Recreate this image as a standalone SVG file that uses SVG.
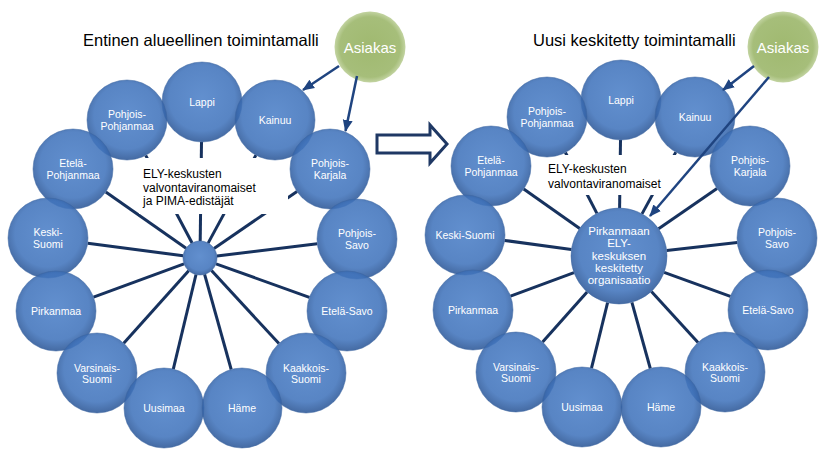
<svg xmlns="http://www.w3.org/2000/svg" width="825" height="461" viewBox="0 0 825 461">
<style>
.title{font-family:"Liberation Sans",Arial,sans-serif;font-size:16.5px;fill:#000}
.ely{font-family:"Liberation Sans",Arial,sans-serif;font-size:12px;fill:#000}
.lbl{font-family:"Liberation Sans",Arial,sans-serif;font-size:10.5px;fill:#fff;text-anchor:middle}
.hubt{font-family:"Liberation Sans",Arial,sans-serif;font-size:11.5px;fill:#fff;text-anchor:middle}
.ast{font-family:"Liberation Sans",Arial,sans-serif;font-size:15px;fill:#fff;text-anchor:middle}
.node{fill:url(#blue);fill-opacity:0.88;stroke:#3a64a0;stroke-opacity:0.5;stroke-width:1}
.asi{fill:url(#green)}
.spoke{stroke:#17325e;stroke-width:3;fill:none}
.arr{stroke:#1f4480;stroke-width:2.5;fill:none;marker-end:url(#ah)}
.wbox{fill:#fff}
</style>
<defs>
<radialGradient id="blue" cx="50%" cy="45%" r="55%">
<stop offset="0" stop-color="#4c80c8"/>
<stop offset="0.75" stop-color="#4174bc"/>
<stop offset="1" stop-color="#2b5696"/>
</radialGradient>
<radialGradient id="green" cx="50%" cy="50%" r="50%">
<stop offset="0" stop-color="#a0b970"/>
<stop offset="0.85" stop-color="#a6be7a"/>
<stop offset="1" stop-color="#c3d4a2"/>
</radialGradient>
<marker id="ah" markerUnits="userSpaceOnUse" markerWidth="12" markerHeight="12" viewBox="0 0 12 12" refX="11" refY="6" orient="auto">
<path d="M0,1 L12,6 L0,11 Z" fill="#1f4480"/>
</marker>
</defs>
<rect width="825" height="461" fill="#fff"/>

<g id="titles">
<text class="title" x="83" y="46">Entinen alueellinen toimintamalli</text>
<text class="title" x="533" y="46">Uusi keskitetty toimintamalli</text>
</g>

<g id="big-arrow">
<path d="M377,135 L430,135 L430,125 L447,144 L430,163 L430,153 L377,153 Z" fill="#fff" stroke="#1f3864" stroke-width="3" stroke-linejoin="miter"/>
</g>

<g id="connectors">
<line class="spoke" x1="200.2" y1="241" x2="201.5" y2="142"/>
<line class="spoke" x1="192.1" y1="243" x2="145.7" y2="155.4"/>
<line class="spoke" x1="208.1" y1="243.1" x2="255.9" y2="155.1"/>
<line class="spoke" x1="186.1" y1="248.2" x2="105.8" y2="192"/>
<line class="spoke" x1="214" y1="248.4" x2="297" y2="191.6"/>
<line class="spoke" x1="183.1" y1="255.8" x2="87.7" y2="243.2"/>
<line class="spoke" x1="216.9" y1="256" x2="317.3" y2="243.8"/>
<line class="spoke" x1="184" y1="263.9" x2="93.5" y2="297.2"/>
<line class="spoke" x1="216" y1="263.8" x2="309.4" y2="297.4"/>
<line class="spoke" x1="188.7" y1="270.7" x2="123.7" y2="343.2"/>
<line class="spoke" x1="211.5" y1="270.5" x2="278.9" y2="343.6"/>
<line class="spoke" x1="196" y1="274.5" x2="173.3" y2="369.1"/>
<line class="spoke" x1="204.6" y1="274.4" x2="231.2" y2="369.5"/>

<line class="spoke" x1="619.6" y1="208" x2="620.5" y2="140"/>
<line class="spoke" x1="596.9" y1="213.4" x2="565.4" y2="152.5"/>
<line class="spoke" x1="642" y1="213.9" x2="675.8" y2="152.1"/>
<line class="spoke" x1="579.7" y1="228.4" x2="523.7" y2="189"/>
<line class="spoke" x1="658.6" y1="228.8" x2="717" y2="188.6"/>
<line class="spoke" x1="571.4" y1="249.5" x2="504.6" y2="240.4"/>
<line class="spoke" x1="666.7" y1="250.6" x2="737.3" y2="242.5"/>
<line class="spoke" x1="574" y1="272.7" x2="510.5" y2="296.1"/>
<line class="spoke" x1="664.1" y1="272.4" x2="730.4" y2="296.4"/>
<line class="spoke" x1="587.1" y1="291.9" x2="542.6" y2="342.1"/>
<line class="spoke" x1="651.4" y1="291.4" x2="698" y2="342.5"/>
<line class="spoke" x1="607.6" y1="302.6" x2="591.5" y2="368.2"/>
<line class="spoke" x1="631.9" y1="302.3" x2="650.3" y2="368.5"/>
</g>

<g id="ely-label-left">
<rect class="wbox" x="139" y="158" width="149" height="56"/>
<text class="ely" x="143" y="178">ELY-keskusten</text>
<text class="ely" x="143" y="191.5">valvontaviranomaiset</text>
<text class="ely" x="143" y="205">ja PIMA-edistäjät</text>
</g>

<g id="ely-label-right">
<rect class="wbox" x="542" y="155" width="158" height="40"/>
<text class="ely" x="548" y="173">ELY-keskusten</text>
<text class="ely" x="548" y="187.5">valvontaviranomaiset</text>
</g>

<g id="left-lappi"><circle class="node" cx="202" cy="102" r="40"/><text class="lbl" x="202" y="106">Lappi</text></g>
<g id="left-pohjois-pohjanmaa"><circle class="node" cx="127" cy="120" r="40"/><text class="lbl" x="127" y="118">Pohjois-</text><text class="lbl" x="127" y="129.5">Pohjanmaa</text></g>
<g id="left-kainuu"><circle class="node" cx="275" cy="120" r="40"/><text class="lbl" x="275" y="124">Kainuu</text></g>
<g id="left-etela-pohjanmaa"><circle class="node" cx="73" cy="169" r="40"/><text class="lbl" x="73" y="167">Etelä-</text><text class="lbl" x="73" y="178.5">Pohjanmaa</text></g>
<g id="left-pohjois-karjala"><circle class="node" cx="330" cy="169" r="40"/><text class="lbl" x="330" y="167">Pohjois-</text><text class="lbl" x="330" y="178.5">Karjala</text></g>
<g id="left-keski-suomi"><circle class="node" cx="48" cy="238" r="40"/><text class="lbl" x="48" y="236">Keski-</text><text class="lbl" x="48" y="247.5">Suomi</text></g>
<g id="left-pohjois-savo"><circle class="node" cx="357" cy="239" r="40"/><text class="lbl" x="357" y="237">Pohjois-</text><text class="lbl" x="357" y="248.5">Savo</text></g>
<g id="left-pirkanmaa"><circle class="node" cx="56" cy="311" r="40"/><text class="lbl" x="56" y="315">Pirkanmaa</text></g>
<g id="left-etela-savo"><circle class="node" cx="347" cy="311" r="40"/><text class="lbl" x="347" y="315">Etelä-Savo</text></g>
<g id="left-varsinais-suomi"><circle class="node" cx="97" cy="373" r="40"/><text class="lbl" x="97" y="371.5">Varsinais-</text><text class="lbl" x="97" y="383">Suomi</text></g>
<g id="left-kaakkois-suomi"><circle class="node" cx="306" cy="373" r="40"/><text class="lbl" x="306" y="371.5">Kaakkois-</text><text class="lbl" x="306" y="383">Suomi</text></g>
<g id="left-uusimaa"><circle class="node" cx="164" cy="408" r="40"/><text class="lbl" x="164" y="412">Uusimaa</text></g>
<g id="left-hame"><circle class="node" cx="242" cy="408" r="40"/><text class="lbl" x="242" y="412">Häme</text></g>
<g id="left-hub"><circle class="node" cx="200" cy="258" r="17"/></g>

<g id="right-lappi"><circle class="node" cx="621" cy="100" r="40"/><text class="lbl" x="621" y="104">Lappi</text></g>
<g id="right-pohjois-pohjanmaa"><circle class="node" cx="547" cy="117" r="40"/><text class="lbl" x="547" y="115">Pohjois-</text><text class="lbl" x="547" y="126.5">Pohjanmaa</text></g>
<g id="right-kainuu"><circle class="node" cx="695" cy="117" r="40"/><text class="lbl" x="695" y="121">Kainuu</text></g>
<g id="right-etela-pohjanmaa"><circle class="node" cx="491" cy="166" r="40"/><text class="lbl" x="491" y="164">Etelä-</text><text class="lbl" x="491" y="175.5">Pohjanmaa</text></g>
<g id="right-pohjois-karjala"><circle class="node" cx="750" cy="166" r="40"/><text class="lbl" x="750" y="164">Pohjois-</text><text class="lbl" x="750" y="175.5">Karjala</text></g>
<g id="right-keski-suomi"><circle class="node" cx="465" cy="235" r="40"/><text class="lbl" x="465" y="239">Keski-Suomi</text></g>
<g id="right-pohjois-savo"><circle class="node" cx="777" cy="238" r="40"/><text class="lbl" x="777" y="236">Pohjois-</text><text class="lbl" x="777" y="247.5">Savo</text></g>
<g id="right-pirkanmaa"><circle class="node" cx="473" cy="310" r="40"/><text class="lbl" x="473" y="314">Pirkanmaa</text></g>
<g id="right-etela-savo"><circle class="node" cx="768" cy="310" r="40"/><text class="lbl" x="768" y="314">Etelä-Savo</text></g>
<g id="right-varsinais-suomi"><circle class="node" cx="516" cy="372" r="40"/><text class="lbl" x="516" y="370.5">Varsinais-</text><text class="lbl" x="516" y="382">Suomi</text></g>
<g id="right-kaakkois-suomi"><circle class="node" cx="725" cy="372" r="40"/><text class="lbl" x="725" y="370.5">Kaakkois-</text><text class="lbl" x="725" y="382">Suomi</text></g>
<g id="right-uusimaa"><circle class="node" cx="582" cy="407" r="40"/><text class="lbl" x="582" y="411">Uusimaa</text></g>
<g id="right-hame"><circle class="node" cx="661" cy="407" r="40"/><text class="lbl" x="661" y="411">Häme</text></g>
<g id="right-hub"><circle class="node" cx="619" cy="256" r="48"/>
<text class="hubt" x="619" y="235">Pirkanmaan</text>
<text class="hubt" x="619" y="247.3">ELY-</text>
<text class="hubt" x="619" y="259.6">keskuksen</text>
<text class="hubt" x="619" y="271.9">keskitetty</text>
<text class="hubt" x="619" y="284.2">organisaatio</text>
</g>

<g id="left-asiakas"><circle class="asi" cx="370" cy="47" r="35.5"/><text class="ast" x="370" y="52.5">Asiakas</text></g>
<g id="right-asiakas"><circle class="asi" cx="783" cy="47" r="35.5"/><text class="ast" x="783" y="52.5">Asiakas</text></g>

<g id="asiakas-connectors">
<line class="arr" x1="339" y1="66" x2="303" y2="90"/>
<line class="arr" x1="357" y1="76" x2="345.5" y2="131"/>
<line class="arr" x1="754" y1="66" x2="723" y2="90"/>
<line class="arr" x1="769" y1="77" x2="650" y2="216"/>
</g>
</svg>
